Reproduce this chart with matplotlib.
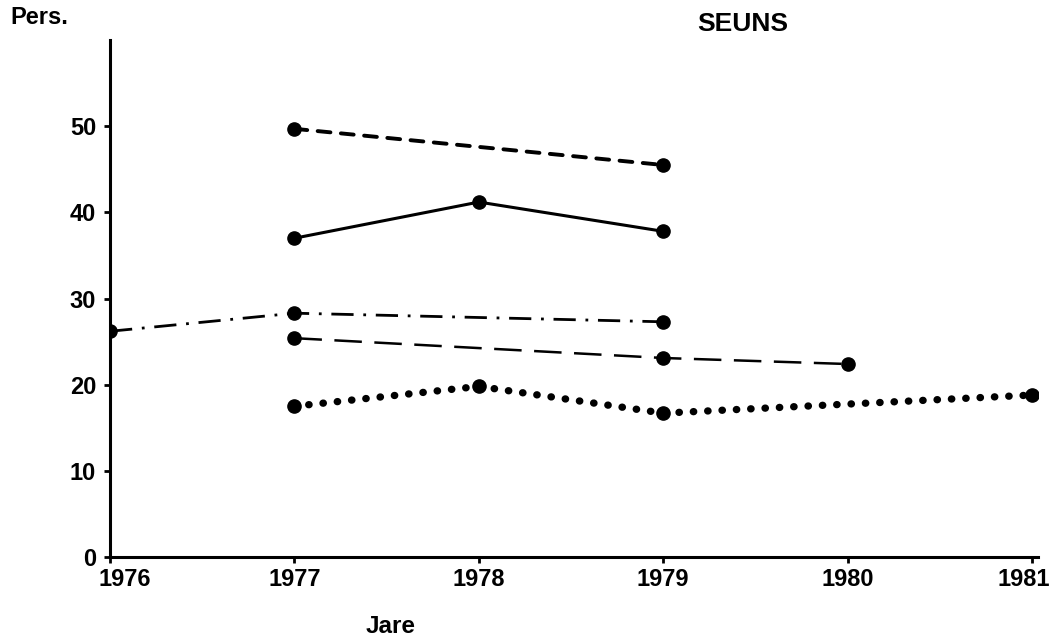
import matplotlib
matplotlib.use("Agg")
import matplotlib.pyplot as plt
from matplotlib.transforms import ScaledTranslation

plt.rcParams['font.family'] = ['Liberation Sans', 'DejaVu Sans']

# Data
years_top = [1977, 1979]
vals_top = [49.7, 45.5]                 # short dashed

years_solid = [1977, 1978, 1979]
vals_solid = [37.0, 41.2, 37.8]         # solid

years_dashdot = [1976, 1977, 1979]
vals_dashdot = [26.2, 28.3, 27.3]       # dash-dot

years_longdash = [1977, 1979, 1980]
vals_longdash = [25.4, 23.1, 22.4]      # long dashed

years_dotted = [1977, 1978, 1979, 1981]
vals_dotted = [17.5, 19.8, 16.7, 18.8]  # dotted

xticks = [1976, 1977, 1978, 1979, 1980, 1981]
yticks = [0, 10, 20, 30, 40, 50]

fig = plt.figure(figsize=(10.52, 6.39), dpi=100)
ax = fig.add_axes([0.1046, 0.1283, 0.8817, 0.809])

ms = 9.5
ax.plot(years_top, vals_top, color='black', lw=2.8, linestyle=(0, (3.3, 2.7)),
        marker='o', ms=ms, dash_capstyle='round')
ax.plot(years_solid, vals_solid, color='black', lw=2.2, marker='o', ms=ms)
ax.plot(years_dashdot, vals_dashdot, color='black', lw=2.0,
        linestyle=(0, (8, 3.5, 1, 3.5)), marker='o', ms=ms)
ax.plot(years_longdash, vals_longdash, color='black', lw=1.8,
        linestyle=(0, (11, 5)), marker='o', ms=ms)
ax.plot(years_dotted, vals_dotted, color='black', lw=5.3,
        linestyle=(0, (0.05, 1.9)), dash_capstyle='round', marker='o', ms=ms)

ax.set_xlim(1976, 1981.03)
ax.set_ylim(0, 60)
ax.set_xticks(xticks)
ax.set_xticklabels([str(x) for x in xticks])
ax.set_yticks(yticks)
ax.set_yticklabels([str(y) for y in yticks])

for s in ['top', 'right']:
    ax.spines[s].set_visible(False)
for s in ['left', 'bottom']:
    ax.spines[s].set_linewidth(2.2)
    ax.spines[s].set_color('black')

ax.tick_params(axis='both', direction='out', length=4, width=2, labelsize=17,
               colors='black')
ax.tick_params(axis='x', pad=4)
ax.tick_params(axis='y', pad=6)
for lab in ax.get_xticklabels() + ax.get_yticklabels():
    lab.set_fontweight('bold')

xl = ax.get_xticklabels()
xl[0].set_transform(xl[0].get_transform() + ScaledTranslation(0.15, 0, fig.dpi_scale_trans))
xl[-1].set_transform(xl[-1].get_transform() + ScaledTranslation(-0.08, 0, fig.dpi_scale_trans))

fig.text(0.010, 0.972, 'Pers.', fontsize=17, fontweight='bold', ha='left', va='center')
fig.text(0.706, 0.962, 'SEUNS', fontsize=19, fontweight='bold', ha='center', va='center')
fig.text(0.371, 0.020, 'Jare', fontsize=17.5, fontweight='bold', ha='center', va='center')

fig.savefig('out.png', dpi=100, facecolor='white')
